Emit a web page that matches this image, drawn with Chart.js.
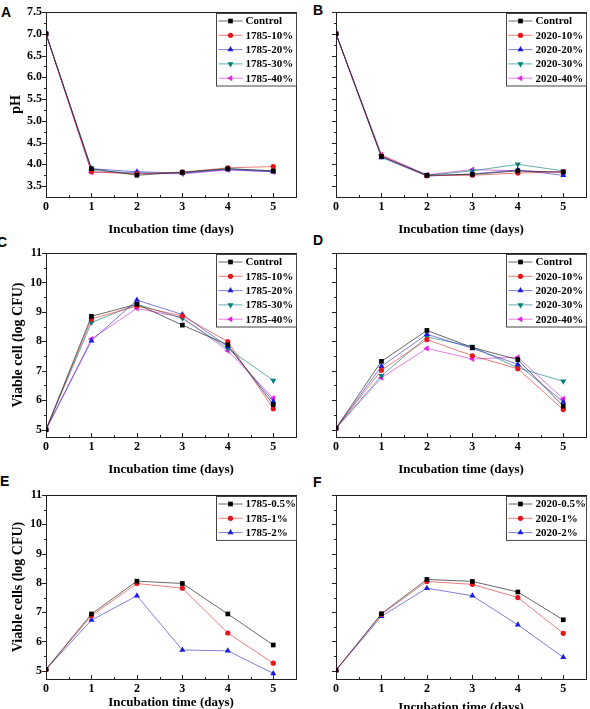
<!DOCTYPE html>
<html>
<head>
<meta charset="utf-8">
<script src="https://cdn.jsdelivr.net/npm/chart.js@4.4.0/dist/chart.umd.min.js"></script>
<style>
  body { margin: 0; width: 590px; height: 709px; overflow: hidden; background: #fff; position: relative; }
  canvas { position: absolute; }
  .letter { position: absolute; font: bold 14px "Liberation Sans", Arial, sans-serif; color: #000; line-height: 14px; }
</style>
</head>
<body>
<div class="letter" style="left:1px;top:5px">A</div>
<div class="letter" style="left:313px;top:3px">B</div>
<div class="letter" style="left:-3px;top:235px">C</div>
<div class="letter" style="left:313px;top:233px">D</div>
<div class="letter" style="left:0px;top:474px">E</div>
<div class="letter" style="left:313px;top:475px">F</div>

<canvas id="chartA" width="300" height="240" style="left:0;top:0"></canvas>
<canvas id="chartB" width="300" height="240" style="left:290px;top:0"></canvas>
<canvas id="chartC" width="300" height="244" style="left:0;top:236px"></canvas>
<canvas id="chartD" width="300" height="244" style="left:290px;top:236px"></canvas>
<canvas id="chartE" width="300" height="239" style="left:0;top:470px"></canvas>
<canvas id="chartF" width="300" height="250" style="left:290px;top:470px"></canvas>

<script>
const days = [0, 1, 2, 3, 4, 5];
const xTicks = [0, 1, 2, 3, 4, 5];
const phTicks = [3.5, 4.0, 4.5, 5.0, 5.5, 6.0, 6.5, 7.0, 7.5];
const cellTicks = [5, 6, 7, 8, 9, 10, 11];

// A - pH, 1785
const labelsA = ['Control', '1785-10%', '1785-20%', '1785-30%', '1785-40%'];
const phA_control = [7.0, 3.90, 3.75, 3.82, 3.90, 3.85];
const phA_10 = [7.0, 3.83, 3.78, 3.82, 3.92, 3.95];
const phA_20 = [7.0, 3.90, 3.83, 3.80, 3.88, 3.83];
const phA_30 = [7.0, 3.86, 3.80, 3.80, 3.90, 3.85];
const phA_40 = [7.0, 3.82, 3.80, 3.78, 3.87, 3.83];

// B - pH, 2020
const labelsB = ['Control', '2020-10%', '2020-20%', '2020-30%', '2020-40%'];
const phB_control = [7.0, 4.18, 3.75, 3.77, 3.85, 3.82];
const phB_10 = [7.0, 4.20, 3.74, 3.75, 3.80, 3.83];
const phB_20 = [7.0, 4.16, 3.73, 3.78, 3.87, 3.75];
const phB_30 = [7.0, 4.18, 3.75, 3.85, 4.00, 3.85];
const phB_40 = [7.0, 4.22, 3.76, 3.88, 3.85, 3.82];

// C - viable cells, 1785
const cellC_control = [5.0, 8.85, 9.26, 8.55, 7.88, 5.85];
const cellC_10 = [5.0, 8.76, 9.20, 8.86, 7.99, 5.71];
const cellC_20 = [5.0, 8.02, 9.40, 8.91, 7.82, 5.96];
const cellC_30 = [5.0, 8.64, 9.26, 8.78, 7.76, 6.67];
const cellC_40 = [5.0, 8.08, 9.12, 8.81, 7.68, 6.07];

// D - viable cells, 2020
const cellD_control = [5.05, 7.32, 8.37, 7.79, 7.38, 5.80];
const cellD_10 = [5.05, 7.02, 8.06, 7.51, 7.07, 5.68];
const cellD_20 = [5.05, 7.15, 8.24, 7.76, 7.22, 5.94];
const cellD_30 = [5.05, 6.83, 8.15, 7.82, 7.10, 6.64];
const cellD_40 = [5.05, 6.76, 7.76, 7.40, 7.46, 6.05];

// E - viable cells, 1785 dose
const labelsE = ['1785-0.5%', '1785-1%', '1785-2%'];
const cellE_05 = [5.05, 6.94, 8.06, 7.98, 6.94, 5.88];
const cellE_1 = [5.05, 6.88, 7.98, 7.82, 6.29, 5.26];
const cellE_2 = [5.05, 6.73, 7.56, 5.71, 5.68, 4.91];

// F - viable cells, 2020 dose
const labelsF = ['2020-0.5%', '2020-1%', '2020-2%'];
const cellF_05 = [5.02, 6.95, 8.12, 8.05, 7.69, 6.74];
const cellF_1 = [5.02, 6.93, 8.05, 7.95, 7.50, 6.28];
const cellF_2 = [5.02, 6.86, 7.82, 7.56, 6.57, 5.46];

const colors = ['#000000', '#e8141c', '#1c1ce0', '#00807a', '#e81ee8'];
const lineColors = ['rgba(40,40,40,0.7)', 'rgba(220,40,40,0.6)', 'rgba(40,40,200,0.6)', 'rgba(0,120,115,0.6)', 'rgba(210,40,210,0.6)'];
const shapes = [
  { style: 'rect', rot: 0, r: 3.3 },
  { style: 'circle', rot: 0, r: 2.6 },
  { style: 'triangle', rot: 0, r: 3.5 },
  { style: 'triangle', rot: 180, r: 3.5 },
  { style: 'triangle', rot: -90, r: 3.5 }
];
const serif = '"Liberation Serif", "Times New Roman", serif';

// box frame + ticks (y out, x in)
const framePlugin = {
  id: 'frame',
  beforeDatasetsDraw(chart) {
    const { ctx, chartArea: a, scales } = chart;
    ctx.save();
    ctx.strokeStyle = '#222';
    ctx.lineWidth = 1;
    ctx.strokeRect(Math.round(a.left) + 0.5, Math.round(a.top) + 0.5, Math.round(a.right - a.left), Math.round(a.bottom - a.top));
    ctx.beginPath();
    const yt = scales.y.ticks.map(t => t.value);
    yt.forEach((v, i) => {
      const p = Math.round(scales.y.getPixelForValue(v)) + 0.5;
      ctx.moveTo(a.left, p); ctx.lineTo(a.left - 4, p);
      const m = i > 0 ? (v + yt[i - 1]) / 2 : v - (yt[1] - yt[0]) / 2;
      if (m > scales.y.min) {
        const q = Math.round(scales.y.getPixelForValue(m)) + 0.5;
        ctx.moveTo(a.left, q); ctx.lineTo(a.left - 2, q);
      }
    });
    const xt = scales.x.ticks.map(t => t.value);
    xt.forEach((v, i) => {
      const p = Math.round(scales.x.getPixelForValue(v)) + 0.5;
      ctx.moveTo(p, a.bottom); ctx.lineTo(p, a.bottom - 4);
      if (i < xt.length - 1) {
        const q = Math.round(scales.x.getPixelForValue(v + 0.5)) + 0.5;
        ctx.moveTo(q, a.bottom); ctx.lineTo(q, a.bottom - 2);
      }
    });
    ctx.stroke();
    ctx.restore();
  }
};

// boxed legend in the upper right corner
const boxLegendPlugin = {
  id: 'boxLegend',
  afterDraw(chart) {
    const { ctx, chartArea: a } = chart;
    const sets = chart.data.datasets;
    const rowH = 14.3;
    const w = 80, h = sets.length * rowH + 1;
    const x0 = Math.round(a.right) - w + 0.5, y0 = Math.round(a.top) + 1.5;
    ctx.save();
    ctx.fillStyle = '#fff';
    ctx.fillRect(x0, y0, w, h);
    ctx.strokeStyle = '#444';
    ctx.lineWidth = 1;
    ctx.strokeRect(x0, y0, w, h);
    sets.forEach((ds, i) => {
      const cy = y0 + 7.5 + i * rowH;
      ctx.strokeStyle = ds.borderColor;
      ctx.beginPath();
      ctx.moveTo(x0 + 2, cy); ctx.lineTo(x0 + 26, cy);
      ctx.stroke();
      ctx.fillStyle = ds.pointBackgroundColor;
      Chart.helpers.drawPoint(ctx, { pointStyle: ds.pointStyle, radius: ds.pointRadius, rotation: ds.pointRotation, borderWidth: 0 }, x0 + 14, cy);
      ctx.fillStyle = '#000';
      ctx.font = 'bold 11px ' + serif;
      ctx.textBaseline = 'middle';
      ctx.textAlign = 'left';
      ctx.fillText(ds.label, x0 + 29, cy + 0.5);
    });
    ctx.restore();
  }
};

function series(labels, lists) {
  return lists.map((vals, i) => ({
    label: labels[i],
    data: vals.map((v, k) => ({ x: days[k], y: v })),
    borderColor: lineColors[i],
    backgroundColor: colors[i],
    pointBackgroundColor: colors[i],
    pointBorderColor: colors[i],
    pointBorderWidth: 0,
    pointStyle: shapes[i].style,
    pointRotation: shapes[i].rot,
    pointRadius: shapes[i].r,
    borderWidth: 1,
    tension: 0
  }));
}

function panel(id, datasets, o) {
  new Chart(document.getElementById(id), {
    type: 'line',
    data: { datasets },
    options: {
      responsive: false,
      animation: false,
      devicePixelRatio: 1,
      layout: { padding: { top: o.top, right: 4, left: 0, bottom: 0 } },
      plugins: { legend: { display: false }, tooltip: { enabled: false } },
      scales: {
        x: {
          type: 'linear', min: 0, max: 5.5,
          afterBuildTicks: s => { s.ticks = xTicks.map(v => ({ value: v })); },
          afterFit: s => { s.height = o.xh; },
          grid: { display: false, drawTicks: false },
          border: { display: false },
          ticks: { color: '#000', padding: 3, font: { family: serif, size: 12, weight: 'bold' } },
          title: { display: true, text: 'Incubation time (days)', color: '#000',
                   padding: { top: 0, bottom: o.xtp }, font: { family: serif, size: 13, weight: 'bold' } }
        },
        y: {
          type: 'linear', min: o.ymin, max: o.ymax,
          afterBuildTicks: s => { s.ticks = o.yticks.map(v => ({ value: v })); },
          afterFit: s => { s.width = 46; },
          grid: { display: false, drawTicks: false },
          border: { display: false },
          ticks: { display: o.ylab, color: '#000', padding: 4,
                   callback: v => o.dec ? v.toFixed(1) : String(v),
                   font: { family: serif, size: 12, weight: 'bold' } },
          title: { display: !!o.ytitle, text: o.ytitle || '', color: '#000',
                   padding: { top: o.ytp, bottom: 0 }, font: { family: serif, size: 14, weight: 'bold' } }
        }
      }
    },
    plugins: [framePlugin, boxLegendPlugin]
  });
}

const phAxis = { ymin: 3.25, ymax: 7.5, yticks: phTicks, dec: true, top: 12, xh: 43, xtp: 3 };
panel('chartA', series(labelsA, [phA_control, phA_10, phA_20, phA_30, phA_40]),
  Object.assign({}, phAxis, { ylab: true, ytitle: 'pH', ytp: 7.5 }));
panel('chartB', series(labelsB, [phB_control, phB_10, phB_20, phB_30, phB_40]),
  Object.assign({}, phAxis, { ylab: false }));

const cellAxis = { ymin: 4.75, ymax: 11, yticks: cellTicks, dec: false, top: 17, xh: 43, xtp: 3 };
panel('chartC', series(labelsA, [cellC_control, cellC_10, cellC_20, cellC_30, cellC_40]),
  Object.assign({}, cellAxis, { ylab: true, ytitle: 'Viable cell (log CFU)', ytp: 9.5 }));
panel('chartD', series(labelsB, [cellD_control, cellD_10, cellD_20, cellD_30, cellD_40]),
  Object.assign({}, cellAxis, { ylab: false }));

panel('chartE', series(labelsE, [cellE_05, cellE_1, cellE_2]),
  { ymin: 4.72, ymax: 11, yticks: cellTicks, dec: false, top: 25, xh: 30, xtp: -1, ylab: true, ytitle: 'Viable cells (log CFU)', ytp: 9.5 });
panel('chartF', series(labelsF, [cellF_05, cellF_1, cellF_2]),
  { ymin: 4.72, ymax: 11, yticks: cellTicks, dec: false, top: 25, xh: 41, xtp: 5, ylab: false });
</script>
</body>
</html>
